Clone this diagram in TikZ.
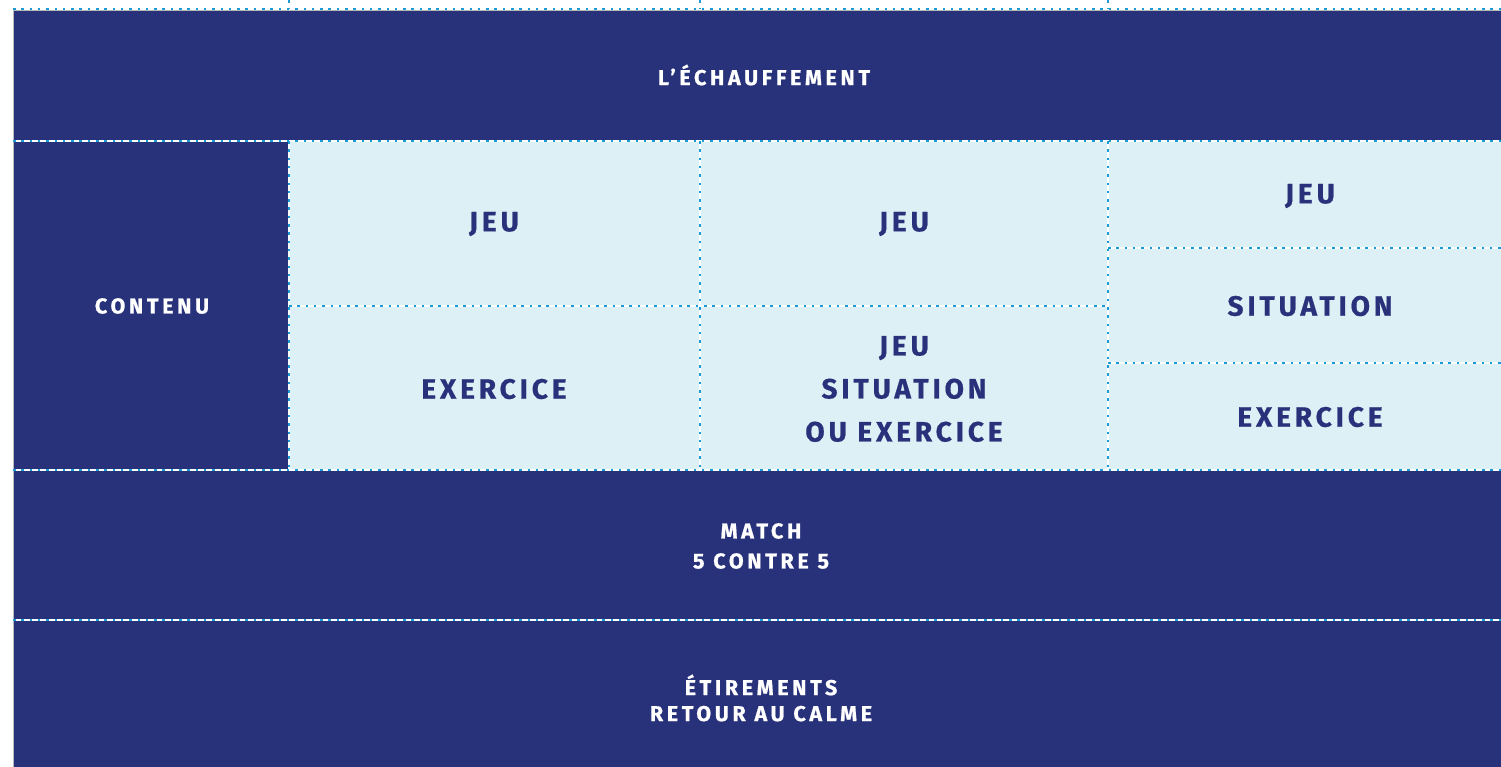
\documentclass[tikz,border=0pt]{standalone}
\usepackage{fontspec}
\newfontfamily\darkfont[LetterSpace=17,FakeBold=0.8]{Fira Sans}
\newfontfamily\palefont[LetterSpace=14,FakeBold=0.6]{Fira Sans}
\definecolor{navy}{HTML}{27327A}
\definecolor{pale}{HTML}{DDF0F6}
\definecolor{dotblue}{HTML}{1A9AD7}

\begin{document}
\begin{tikzpicture}[x=1pt,y=-1pt,
	band/.style={fill=navy,draw=gray!55,line width=0.6pt},
	cell/.style={fill=pale},
	sep/.style={dotblue,line width=2.5pt,dash pattern=on 2.5pt off 5.8pt,preaction={draw=white,solid,line width=1.4pt}},
	darklabel/.style={text=white,align=center,font=\darkfont\bfseries\fontsize{21.5}{30}\selectfont},
	palelabel/.style={text=navy,align=center,font=\palefont\bfseries\fontsize{28}{43}\selectfont}]
	\useasboundingbox (0,0) rectangle (1501,766);

	% bands and cells
	\fill[white] (0,0) rectangle (1501,766);
	\filldraw[band] (13,10) rectangle (1510,141);
	\filldraw[band] (13,141) rectangle (288,470);
	\fill[cell] (288,141) rectangle (1510,470);
	\filldraw[band] (13,470) rectangle (1510,620);
	\filldraw[band] (13,620) rectangle (1510,780);

	% separators
	\draw[sep] (13,9) -- (1501,9);
	\draw[sep] (289,0) -- (289,9);
	\draw[sep] (700,0) -- (700,9);
	\draw[sep] (1108,0) -- (1108,9);
	\draw[sep] (13,141) -- (1501,141);
	\draw[sep] (289,141) -- (289,470);
	\draw[sep] (700,141) -- (700,470);
	\draw[sep] (1108,141) -- (1108,470);
	\draw[sep] (289,306) -- (1108,306);
	\draw[sep] (1108,248) -- (1501,248);
	\draw[sep] (1108,363) -- (1501,363);
	\draw[sep] (13,470) -- (1501,470);
	\draw[sep] (13,620) -- (1501,620);

	% labels
	\node[darklabel] at (764,75) (warmup) {L’ÉCHAUFFEMENT};
	\node[darklabel] at (152,306) (content) {CONTENU};
	\node[palelabel] at (494,224) (gameA) {JEU};
	\node[palelabel] at (494,389) (drillA) {EXERCICE};
	\node[palelabel] at (904,224) (gameB) {JEU};
	\node[palelabel] at (904,389) (mixB) {JEU\\SITUATION\\OU EXERCICE};
	\node[palelabel] at (1310,196) (gameC) {JEU};
	\node[palelabel] at (1310,306) (situC) {SITUATION};
	\node[palelabel] at (1310,417) (drillC) {EXERCICE};
	\node[darklabel] at (761,546) (match) {MATCH\\5 CONTRE 5};
	\node[darklabel] at (761,698) (stretch) {ÉTIREMENTS\\[-4pt]RETOUR AU CALME};
\end{tikzpicture}
\end{document}
